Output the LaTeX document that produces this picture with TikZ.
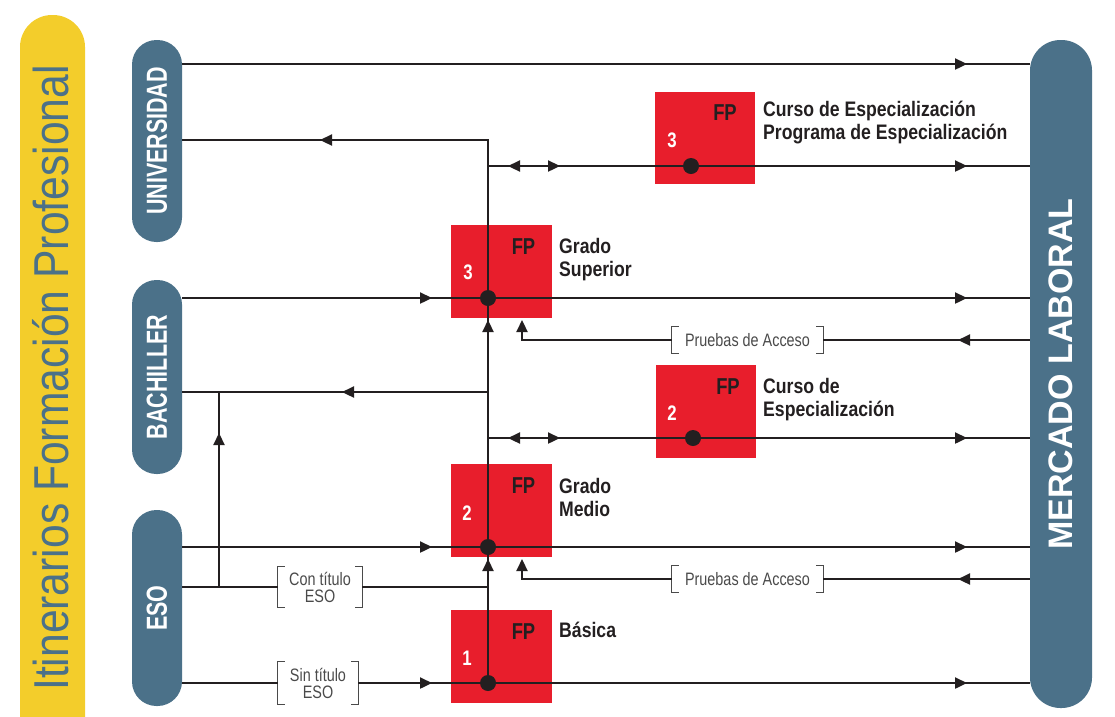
\documentclass[tikz,border=0pt]{standalone}
\usepackage{fontspec}
\setmainfont{Liberation Sans}
\newfontfamily\pillf{Liberation Sans}[FakeStretch=0.74]
\newfontfamily\fpf{Liberation Sans}[FakeStretch=0.8]
\newfontfamily\labf{Liberation Sans}[FakeStretch=0.84]
\newfontfamily\brf{Liberation Sans}[FakeStretch=0.8]
\newfontfamily\ttlf{Liberation Sans}[FakeStretch=0.87]
\usetikzlibrary{arrows.meta}
\definecolor{ink}{HTML}{231F20}
\definecolor{fpred}{HTML}{E81E2C}
\definecolor{pillc}{HTML}{4B7189}
\definecolor{ylw}{HTML}{F3CD2B}
\definecolor{brk}{HTML}{4A4A4A}
\begin{document}
\begin{tikzpicture}[x=1pt,y=-1pt,
  ln/.style={line width=2.3pt,draw=ink},
  ar/.style={line width=2.3pt,draw=ink,-{Triangle[length=12pt,width=11pt]}},
  pillbox/.style={fill=pillc,rotate=90,text=white,inner sep=0pt,
    font=\pillf\bfseries\fontsize{29}{29}\selectfont},
  fpbox/.style={fill=fpred,inner sep=0pt},
  fptxt/.style={text=ink,inner sep=0pt,font=\fpf\bfseries\fontsize{23}{23}\selectfont},
  numtxt/.style={text=white,inner sep=0pt,font=\fpf\bfseries\fontsize{21}{21}\selectfont},
  labtxt/.style={text=ink,inner sep=0pt,anchor=north west,align=left,
    font=\labf\bfseries\fontsize{21}{23}\selectfont},
  brlab/.style={text=brk,inner sep=0pt,align=center,
    font=\brf\fontsize{18}{17}\selectfont},
  brline/.style={draw=brk,line width=1.3pt},
  dot/.style={fill=ink}
]
\useasboundingbox (0,0) rectangle (1115,716);

% yellow title bar
\begin{scope}
  \clip (0,0) rectangle (1115,716);
  \fill[ylw,rounded corners=32pt] (20,15) rectangle (85,780);
\end{scope}
\node[rotate=90,anchor=base,inner sep=0pt,text=pillc,
  font=\ttlf\fontsize{49}{49}\selectfont] (title) at (68,378)
  {Itinerarios Formación Profesional};

% pills
\node[pillbox,minimum width=202pt,minimum height=50pt,rounded corners=24.5pt] (univ) at (157,141) {UNIVERSIDAD};
\node[pillbox,minimum width=194pt,minimum height=50pt,rounded corners=24.5pt] (bach) at (157,377) {BACHILLER};
\node[pillbox,minimum width=196pt,minimum height=50pt,rounded corners=24.5pt] (eso) at (157,608) {ESO};
\node[pillbox,minimum width=668pt,minimum height=62pt,rounded corners=30.5pt,
  font=\bfseries\fontsize{34}{34}\selectfont] (merc) at (1061,374) {MERCADO LABORAL};

% red FP boxes
\node[fpbox,minimum width=101pt,minimum height=93pt] (fp1) at (501.5,656.5) {};
\node[fpbox,minimum width=101pt,minimum height=93pt] (fp2) at (501.5,510.5) {};
\node[fpbox,minimum width=101pt,minimum height=93pt] (fp3) at (501.5,271.5) {};
\node[fpbox,minimum width=100pt,minimum height=92pt] (ce3) at (705,138) {};
\node[fpbox,minimum width=100pt,minimum height=93pt] (ce2) at (706,411.5) {};

% bracket labels
\node[brlab,minimum width=151pt,minimum height=27pt] (pa3) at (747.5,340) {Pruebas de Acceso};
\node[brlab,minimum width=151pt,minimum height=27pt] (pa2) at (747.5,579) {Pruebas de Acceso};
\node[brlab,minimum width=84pt,minimum height=41pt] (con) at (320,587) {Con título\\ESO};
\node[brlab,minimum width=80pt,minimum height=42pt] (sin) at (318,683) {Sin título\\ESO};
\foreach \b in {pa3,pa2,con,sin}{
  \draw[brline] ([xshift=7pt]\b.north west) -- (\b.north west) -- (\b.south west) -- ([xshift=7pt]\b.south west);
  \draw[brline] ([xshift=-7pt]\b.north east) -- (\b.north east) -- (\b.south east) -- ([xshift=-7pt]\b.south east);
}

% connectors
% y = 64
\draw[ln] (univ.south |- 0,64) -- (merc.north |- 0,64);
\draw[ar] (952,64) -- (967,64);
% trunk with branch to universidad
\coordinate (t140) at (488,140);
\coordinate (tbot) at (488,683);
\draw[ln] (univ.south |- t140) -- (t140) -- (tbot);
\draw[ar] (335,140) -- (320,140);
\draw[ar] (488,336) -- (488,320);
\draw[ar] (488,575) -- (488,559);
% y = 166
\draw[ln] (488,166) -- (merc.north |- 0,166);
\draw[ar] (523,166) -- (508,166);
\draw[ar] (545,166) -- (560,166);
\draw[ar] (952,166) -- (967,166);
% y = 298
\draw[ln] (bach.south |- 0,298) -- (merc.north |- 0,298);
\draw[ar] (417,298) -- (432,298);
\draw[ar] (952,298) -- (967,298);
% y = 340 (pruebas de acceso -> grado superior)
\draw[ln] (merc.north |- pa3) -- (pa3.east);
\draw[ar] (pa3.west) -- (522,340) -- (522,320);
\draw[ar] (973,340) -- (958,340);
% y = 392
\coordinate (j392) at (219,392);
\coordinate (j587) at (219,587);
\draw[ln] (488,392) -- (bach.south |- j392);
\draw[ar] (357,392) -- (342,392);
\draw[ln] (j587) -- (j392);
\draw[ar] (219,449) -- (219,433);
% y = 438
\draw[ln] (488,438) -- (merc.north |- 0,438);
\draw[ar] (523,438) -- (508,438);
\draw[ar] (545,438) -- (560,438);
\draw[ar] (952,438) -- (967,438);
% y = 547
\draw[ln] (eso.south |- 0,547) -- (merc.north |- 0,547);
\draw[ar] (417,547) -- (432,547);
\draw[ar] (952,547) -- (967,547);
% y = 579
\draw[ln] (merc.north |- pa2) -- (pa2.east);
\draw[ar] (pa2.west) -- (522,579) -- (522,559);
\draw[ar] (973,579) -- (958,579);
% y = 587
\draw[ln] (eso.south |- j587) -- (con.west);
\draw[ln] (con.east) -- (488,587);
% y = 683
\draw[ln] (eso.south |- tbot) -- (sin.west);
\draw[ln] (sin.east) -- (merc.north |- tbot);
\draw[ar] (417,683) -- (432,683);
\draw[ar] (952,683) -- (967,683);

% dots
\fill[dot] (488,298) circle (8pt);
\fill[dot] (488,547) circle (8pt);
\fill[dot] (488,683) circle (8pt);
\fill[dot] (691,166) circle (8pt);
\fill[dot] (693,438) circle (8pt);

% box texts
\node[fptxt] (fp1a) at (523.5,632) {FP};
\node[fptxt] (fp2a) at (523.5,486) {FP};
\node[fptxt] (fp3a) at (523.5,247) {FP};
\node[fptxt] (ce3a) at (725,113) {FP};
\node[fptxt] (ce2a) at (728,387) {FP};
\node[numtxt] (fp1n) at (467,658) {1};
\node[numtxt] (fp2n) at (467,513) {2};
\node[numtxt] (fp3n) at (468,272) {3};
\node[numtxt] (ce3n) at (672,140) {3};
\node[numtxt] (ce2n) at (672,413) {2};

% labels
\node[labtxt] (l1) at (559,622) {Básica};
\node[labtxt] (l2) at (559,478) {Grado\\Medio};
\node[labtxt] (l3) at (559,238) {Grado\\Superior};
\node[labtxt] (l4) at (763,101) {Curso de Especialización\\Programa de Especialización};
\node[labtxt] (l5) at (763,378) {Curso de\\Especialización};
\end{tikzpicture}
\end{document}
